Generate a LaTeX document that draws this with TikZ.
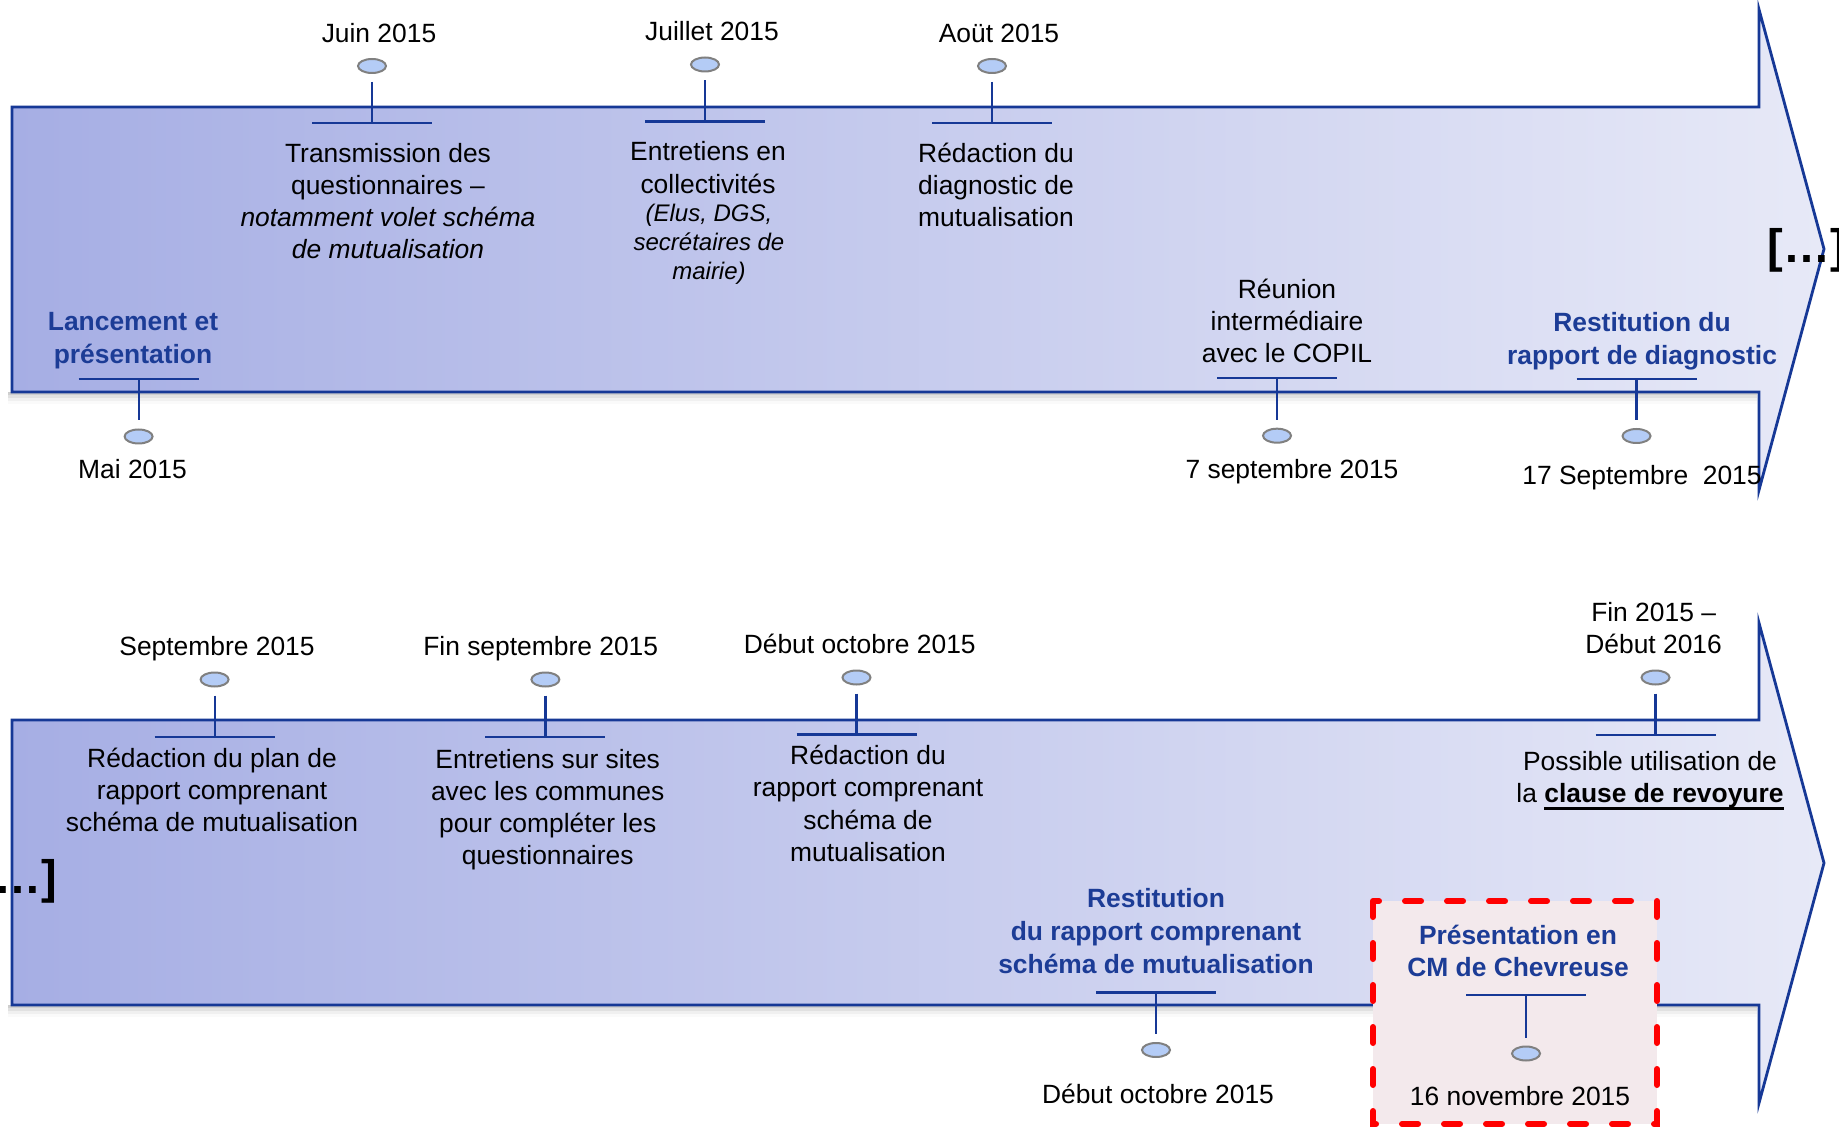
\documentclass[tikz,border=0pt]{standalone}
\usepackage{fontspec}
\setmainfont{Liberation Sans}
\usetikzlibrary{shapes.geometric}
\definecolor{lblue}{RGB}{22,56,150}
\definecolor{tblue}{RGB}{28,60,150}
\definecolor{bodyleft}{RGB}{166,174,228}
\definecolor{bodyright}{RGB}{231,233,247}
\definecolor{dotfill}{RGB}{180,204,246}
\definecolor{dotgray}{RGB}{128,128,128}
\definecolor{boxfill}{RGB}{243,233,236}
\newcommand\myul[1]{\setbox0=\hbox{#1}\rlap{\rule[-3.4pt]{\wd0}{1.2pt}}\box0}
\tikzset{
  date/.style={font=\fontsize{13.2}{16.2}\selectfont, inner sep=0pt, align=center},
  desc/.style={font=\fontsize{13.2}{16.1}\selectfont, inner sep=0pt, align=center},
  descit/.style={font=\fontsize{12}{14.4}\selectfont\itshape, inner sep=0pt, align=center},
  key/.style={font=\fontsize{13.2}{16.3}\selectfont\bfseries, text=tblue, inner sep=0pt, align=center},
  dot/.style={ellipse, draw=dotgray, fill=dotfill, line width=1pt, minimum width=14pt, minimum height=7pt, inner sep=0pt},
  stem/.style={draw=lblue, line width=1.1pt},
  arrowbody/.style={left color=bodyleft, right color=bodyright, draw=lblue, line width=1.4pt, line join=miter},
  dots/.style={font=\fontsize{23.5}{26}\selectfont\bfseries, inner sep=0pt, anchor=west},
}
\begin{document}
\begin{tikzpicture}[x=0.5pt,y=-0.5pt]
\useasboundingbox (0,0) rectangle (1839,1127);
\fill[white] (0,0) rectangle (1839,1127);
% shadows
\foreach \s/\o in {0/0.10,3/0.08,6/0.06,9/0.04,12/0.02}{
  \fill[black,opacity=\o] (8,392) rectangle (1757,392+\s);
  \fill[black,opacity=\o] (8,1005) rectangle (1757,1005+\s);
}
% arrow bodies
\path[arrowbody] (12,107) -- (1759,107) -- (1759,9.5) -- (1824,249) -- (1759,490) -- (1759,392) -- (12,392) -- cycle;
\path[arrowbody] (12,720) -- (1759,720) -- (1759,623) -- (1824,863) -- (1759,1103) -- (1759,1005) -- (12,1005) -- cycle;
% red dashed box
\fill[boxfill] (1373,901) rectangle (1657,1124);
\draw[red, line width=3pt, line cap=round, dash pattern=on 8pt off 13pt] (1373,901) rectangle (1657,1124);

% ---------- top row, above ----------
\node[date] (l1) at (379,33) {Juin 2015};
\node[dot] (d1) at (372,66) {};
\coordinate (b1) at (372,123);
\draw[stem, shorten <=4pt] (d1) -- (b1);
\draw[stem] (b1) +(-60,0) -- +(60,0);
\node[desc] (t1) at (388,201) {Transmission des\\questionnaires –\\\textit{notamment volet schéma}\\\textit{de mutualisation}};

\node[date] (l2) at (712,31) {Juillet 2015};
\node[dot] (d2) at (705,64.5) {};
\coordinate (b2) at (705,121.5);
\draw[stem, shorten <=4pt] (d2) -- (b2);
\draw[stem] (b2) +(-60,0) -- +(60,0);
\node[desc] (t2) at (708,167.5) {Entretiens en\\collectivités};
\node[descit] (t2b) at (709,244.5) {(Elus, DGS,\\secrétaires de\\mairie)};

\node[date] (l3) at (999,33) {Aoüt 2015};
\node[dot] (d3) at (992,66) {};
\coordinate (b3) at (992,123);
\draw[stem, shorten <=4pt] (d3) -- (b3);
\draw[stem] (b3) +(-60,0) -- +(60,0);
\node[desc] (t3) at (996,185) {Rédaction du\\diagnostic de\\mutualisation};

% ---------- top row, below ----------
\node[key] (t4) at (133,340.5) {Lancement et\\présentation};
\coordinate (b4) at (138.6,379);
\node[dot] (d4) at (138.6,436.5) {};
\draw[stem] (b4) +(-60,0) -- +(60,0);
\draw[stem, shorten >=4pt] (b4) -- (d4);
\node[date] (l4) at (132.5,469.5) {Mai 2015};

\node[desc] (t5) at (1287,321) {Réunion\\intermédiaire\\avec le COPIL};
\coordinate (b5) at (1277,378);
\node[dot] (d5) at (1277,435.7) {};
\draw[stem] (b5) +(-60,0) -- +(60,0);
\draw[stem, shorten >=4pt] (b5) -- (d5);
\node[date] (l5) at (1292,471.5) {7 septembre 2015};

\node[key] (t6) at (1642,341.5) {Restitution du\\rapport de diagnostic};
\coordinate (b6) at (1636.5,378.7);
\node[dot] (d6) at (1636.5,436) {};
\draw[stem] (b6) +(-60,0) -- +(60,0);
\draw[stem, shorten >=4pt] (b6) -- (d6);
\node[date] (l6) at (1642,478) {17 Septembre\ \ 2015};

\node[dots] (br1) at (1767,250.5) {[…]};

% ---------- bottom row, above ----------
\node[date] (l7) at (217,649) {Septembre 2015};
\node[dot] (d7) at (214.6,679.5) {};
\coordinate (b7) at (214.6,737);
\draw[stem, shorten <=4pt] (d7) -- (b7);
\draw[stem] (b7) +(-60,0) -- +(60,0);
\node[desc] (t7) at (212,790) {Rédaction du plan de\\rapport comprenant\\schéma de mutualisation};

\node[date] (l8) at (540.7,649) {Fin septembre 2015};
\node[dot] (d8) at (545.4,679.5) {};
\coordinate (b8) at (545.4,737);
\draw[stem, shorten <=4pt] (d8) -- (b8);
\draw[stem] (b8) +(-60,0) -- +(60,0);
\node[desc] (t8) at (547.7,809.5) {Entretiens sur sites\\avec les communes\\pour compléter les\\questionnaires};

\node[date] (l9) at (859.7,644) {Début octobre 2015};
\node[dot] (d9) at (856.5,677.5) {};
\coordinate (b9) at (856.5,734.5);
\draw[stem, shorten <=4pt] (d9) -- (b9);
\draw[stem] (b9) +(-60,0) -- +(60,0);
\node[desc] (t9) at (868,803.5) {Rédaction du\\rapport comprenant\\schéma de\\mutualisation};

\node[date] (l10) at (1653.6,628) {Fin 2015 –\\Début 2016};
\node[dot] (d10) at (1655.5,677.5) {};
\coordinate (b10) at (1655.5,735);
\draw[stem, shorten <=4pt] (d10) -- (b10);
\draw[stem] (b10) +(-60,0) -- +(60,0);
\node[desc] (t10) at (1650,780.5) {Possible utilisation de\\la \textbf{\myul{clause de revoyure}}};

% ---------- bottom row, below ----------
\node[key] (t11) at (1156,931) {Restitution\\du rapport comprenant\\schéma de mutualisation};
\coordinate (b11) at (1156,992.4);
\node[dot] (d11) at (1156,1050) {};
\draw[stem] (b11) +(-60,0) -- +(60,0);
\draw[stem, shorten >=4pt] (b11) -- (d11);
\node[date] (l11) at (1158,1093.5) {Début octobre 2015};

\node[key] (t12) at (1518,951) {Présentation en\\CM de Chevreuse};
\coordinate (b12) at (1526,995.2);
\node[dot] (d12) at (1526,1053.5) {};
\draw[stem] (b12) +(-60,0) -- +(60,0);
\draw[stem, shorten >=4pt] (b12) -- (d12);
\node[date] (l12) at (1520,1096) {16 novembre 2015};

\node[dots] (br2) at (-22,881) {[…]};
\end{tikzpicture}
\end{document}
